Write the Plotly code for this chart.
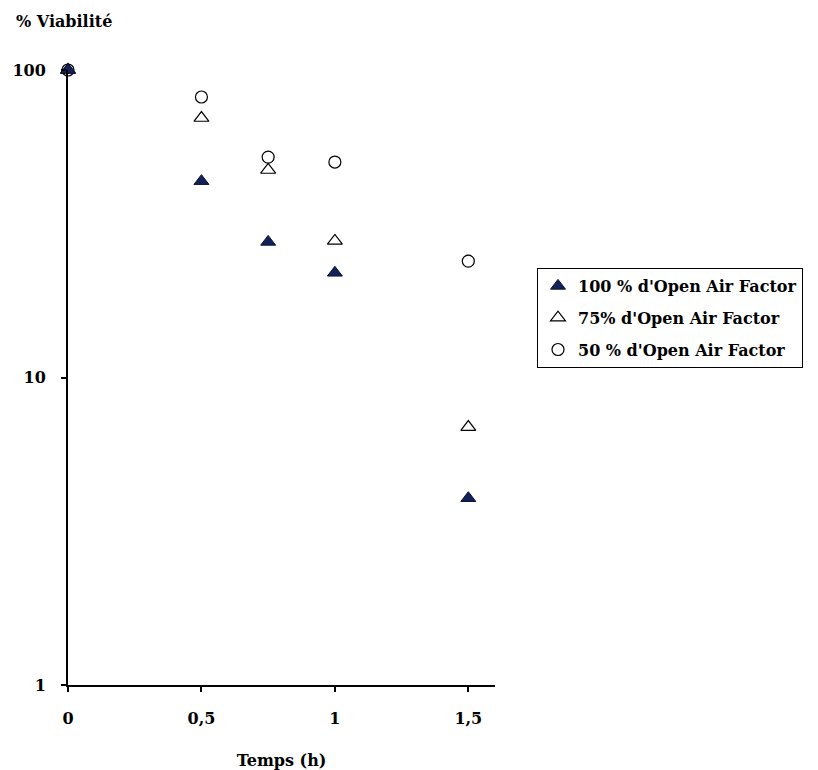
import plotly.graph_objects as go

temps = [0, 0.5, 0.75, 1, 1.5]
oaf_100 = [100, 43.5, 27.6, 21.9, 4.05]
oaf_75 = [100, 69.8, 47.3, 27.8, 6.9]
oaf_50 = [100, 81.7, 52.1, 50.2, 23.9]
names = ["100 % d'Open Air Factor", "75% d'Open Air Factor", "50 % d'Open Air Factor"]
x_ticks = [0, 0.5, 1, 1.5]
x_ticklabels = ["0", "0,5", "1", "1,5"]
y_ticks = [1, 10, 100]
y_ticklabels = ["1", "10", "100"]

FONT = "DejaVu Serif"
fig = go.Figure()
fig.add_trace(go.Scatter(x=temps, y=oaf_50, mode="markers", name=names[2], cliponaxis=False,
                         legendgroup="c", legendrank=3,
                         marker=dict(symbol="circle-open", size=12, color="black", line=dict(width=1.2))))
fig.add_trace(go.Scatter(x=temps, y=oaf_75, mode="markers", name=names[1], cliponaxis=False,
                         legendgroup="b", legendrank=2,
                         marker=dict(symbol="triangle-up-open", size=13, color="black", line=dict(width=1.2))))
fig.add_trace(go.Scatter(x=temps, y=oaf_100, mode="markers", name=names[0], cliponaxis=False,
                         legendgroup="a", legendrank=1,
                         marker=dict(symbol="triangle-up", size=13, color="#13215a",
                                     line=dict(width=1, color="#0a1030"))))

fig.update_layout(
    width=818, height=770,
    paper_bgcolor="white", plot_bgcolor="white",
    margin=dict(l=68, r=323, t=70, b=85),
    font=dict(family=FONT, size=16, color="black"),
    showlegend=True,
    legend=dict(x=(537 - 68) / 427, y=(685 - 268) / 615, xanchor="left", yanchor="top",
                bordercolor="black", borderwidth=1, bgcolor="white",
                font=dict(family=FONT, size=16, color="black", weight="bold"),
                traceorder="grouped", tracegroupgap=8, itemwidth=30),
    xaxis=dict(range=[0, 1.6], showline=True, linecolor="black", linewidth=2,
               tickmode="array", tickvals=x_ticks, ticktext=x_ticklabels,
               ticks="outside", ticklen=5, tickwidth=2, tickcolor="black",
               showgrid=False, zeroline=False, ticklabelstandoff=13, automargin=False,
               tickfont=dict(family=FONT, size=16, weight="bold"),
               title=dict(text="Temps (h)", font=dict(family=FONT, size=16, weight="bold"), standoff=30)),
    yaxis=dict(type="log", range=[0, 2], showline=True, linecolor="black", linewidth=2,
               tickmode="array", tickvals=y_ticks, ticktext=y_ticklabels,
               ticks="outside", ticklen=5, tickwidth=2, tickcolor="black",
               showgrid=False, zeroline=False, ticklabelstandoff=12, automargin=False,
               tickfont=dict(family=FONT, size=16, weight="bold")),
    annotations=[dict(text="% Viabilité", x=(14 - 68) / 427, y=(685 - 22) / 615,
                      xref="paper", yref="paper", xanchor="left", yanchor="middle",
                      showarrow=False, font=dict(family=FONT, size=16, weight="bold"))],
)

fig.write_html("out.html", config={"displayModeBar": False},
               post_script="document.body.style.margin='0';")
